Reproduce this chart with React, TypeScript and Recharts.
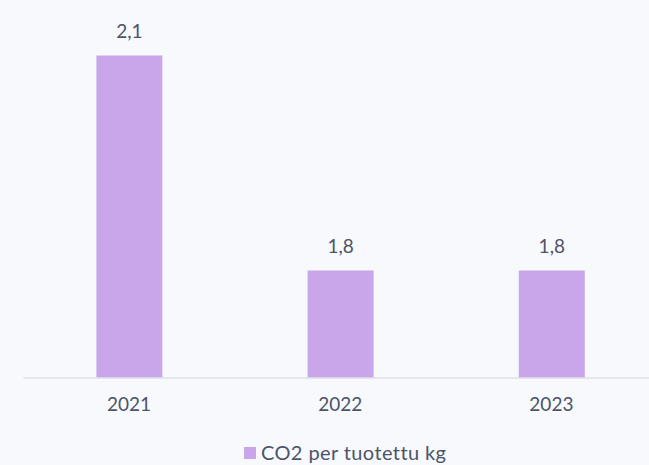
import React from "react";
import { BarChart, Bar, XAxis, YAxis, Legend, LabelList } from "recharts";

const years = ["2021", "2022", "2023"];
const co2PerKg = [2.1, 1.8, 1.8];
const seriesName = "CO2 per tuotettu kg";

const data = years.map((y, i) => ({ year: y, value: co2PerKg[i] }));

const FONT = "Lato, 'Open Sans', sans-serif";
const TEXT = "#4b5467";
const BAR = "#c8a6e9";
const BG = "#f8f9fd";

const fmt = (v: any) => Number(v).toFixed(1).replace(".", ",");

const LegendContent = () => (
  <div style={{ display: "flex", justifyContent: "center", alignItems: "center", fontFamily: FONT, fontSize: 20, letterSpacing: 0.4, color: TEXT, lineHeight: "20px", paddingLeft: 10 }}>
    <span style={{ display: "inline-block", width: 12, height: 12, background: BAR, marginRight: 5, marginTop: 2 }} />
    <span>{seriesName}</span>
  </div>
);

export default function App() {
  return (
    <div style={{ position: "absolute", left: 0, top: 0, width: 649, height: 465, overflow: "hidden", background: BG }}>
      <BarChart
        width={680}
        height={465}
        data={data}
        margin={{ top: 19.67, right: 23, bottom: 0, left: 23.4 }}
        barSize={66}
      >
        <YAxis hide domain={[1.65, 2.15]} allowDataOverflow />
        <XAxis
          dataKey="year"
          height={57}
          tickLine={false}
          tickSize={6}
          tickMargin={14}
          axisLine={{ stroke: "#dfe1e8", strokeWidth: 1.5 }}
          tick={{ fill: TEXT, fontSize: 19, fontFamily: FONT }}
        />
        <Legend
          verticalAlign="bottom"
          content={<LegendContent />}
          wrapperStyle={{ height: 30, boxSizing: "border-box", paddingTop: 7 }}
        />
        <Bar dataKey="value" name={seriesName} fill={BAR} isAnimationActive={false}>
          <LabelList
            dataKey="value"
            position="top"
            offset={18}
            formatter={fmt}
            style={{ fill: TEXT, fontSize: 19, fontFamily: FONT }}
          />
        </Bar>
      </BarChart>
    </div>
  );
}
